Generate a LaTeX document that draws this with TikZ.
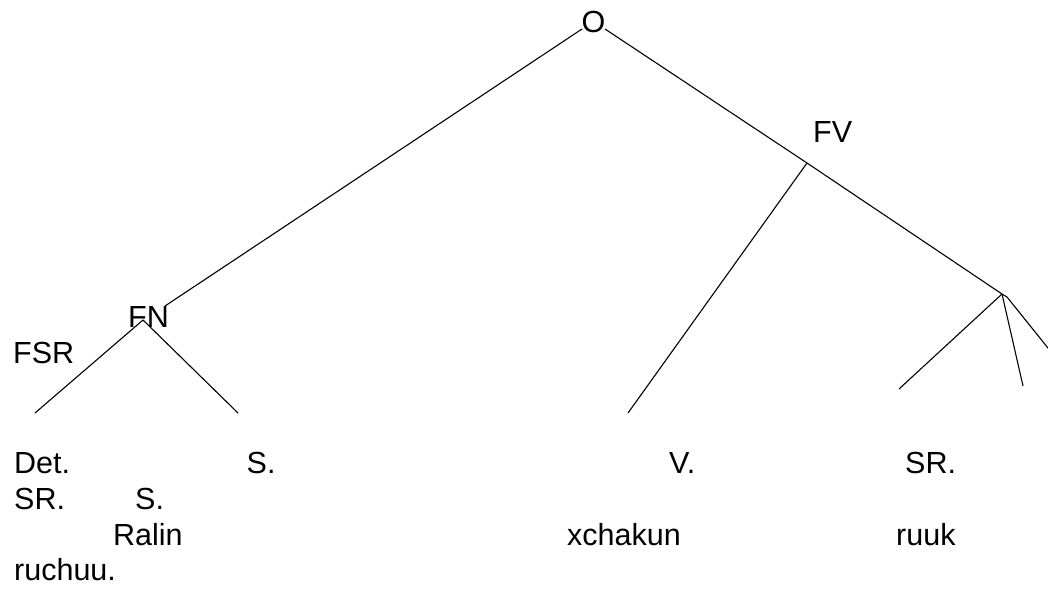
\documentclass[tikz,border=0pt]{standalone}
\usepackage{fontspec}
\setmainfont{Liberation Sans}
\begin{document}
\begin{tikzpicture}[x=1pt,y=-1pt,
  lbl/.style={inner sep=0pt,anchor=base west,font=\fontsize{30.5}{35}\selectfont},
  branch/.style={line width=1.1pt,black}]
\useasboundingbox (0,0) rectangle (1048,590);
% labels
\node[lbl] (O) at (581.5,32) {O};
\node[lbl] (FV) at (813,142) {FV};
\node[lbl] (FN) at (128,327) {FN};
\node[lbl] (FSR) at (13,363) {FSR};
\node[lbl] (det) at (14,473) {Det.};
\node[lbl] (s1) at (246.5,473) {S.};
\node[lbl] (v) at (669,473) {V.};
\node[lbl] (sr1) at (905,473) {SR.};
\node[lbl] (sr2) at (14,509) {SR.};
\node[lbl] (s2) at (135,509) {S.};
\node[lbl] (ralin) at (113,545) {Ralin};
\node[lbl] (xchakun) at (567,545) {xchakun};
\node[lbl] (ruuk) at (896,545) {ruuk};
\node[lbl] (ruchuu) at (14,580) {ruchuu.};
% junction points
\coordinate (oL) at (582,29);
\coordinate (oR) at (605,29);
\coordinate (fnTop) at (165,306);
\coordinate (fnApex) at (143,320);
\coordinate (fnL) at (35,413);
\coordinate (fnR) at (238,413);
\coordinate (fvJ) at (807,163);
\coordinate (vEnd) at (628,413);
\coordinate (rApex) at (1002,294);
\coordinate (rA2) at (1007,297);
\coordinate (rL) at (899,389);
\coordinate (rM) at (1023,386);
\coordinate (rR) at (1052,353);
% branches
\draw[branch] (oL) -- (fnTop);
\draw[branch] (oR) -- (fvJ) -- (rApex);
\draw[branch] (fvJ) -- (vEnd);
\draw[branch] (fnApex) -- (fnL);
\draw[branch] (fnApex) -- (fnR);
\draw[branch] (rApex) -- (rL);
\draw[branch] (rApex) -- (rM);
\draw[branch] (rApex) -- (rA2) -- (rR);
\end{tikzpicture}
\end{document}
